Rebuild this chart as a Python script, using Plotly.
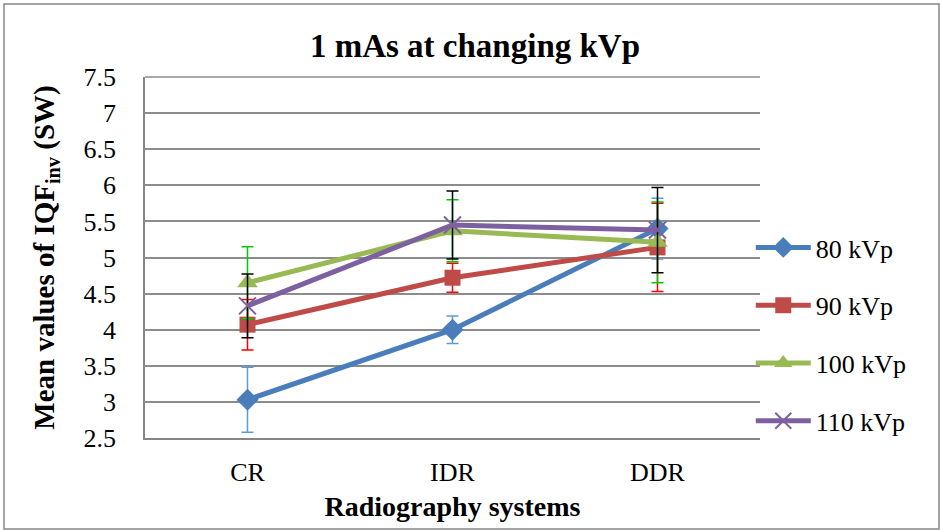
import plotly.graph_objects as go

categories = ["CR", "IDR", "DDR"]
series_names = ["80 kVp", "90 kVp", "100 kVp", "110 kVp"]
values_80 = [3.03, 4.00, 5.40]
values_90 = [4.07, 4.72, 5.14]
values_100 = [4.65, 5.37, 5.21]
values_110 = [4.33, 5.45, 5.38]
err_80 = [0.45, 0.19, 0.42]
err_90 = [0.35, 0.20, 0.61]
err_100 = [0.50, 0.43, 0.56]
err_110 = [0.44, 0.47, 0.59]
y_ticks = [2.5, 3, 3.5, 4, 4.5, 5, 5.5, 6, 6.5, 7, 7.5]

W, H = 940, 530
L, R, T, B = 145, 180, 77, 92

styles = [
    dict(color="#4a7ebb", symbol="diamond", size=17, ecolor="#5b9bd5"),
    dict(color="#be4b48", symbol="square", size=16, ecolor="#ff0000"),
    dict(color="#98b954", symbol="triangle-up", size=18, ecolor="#00cc00"),
    dict(color="#7d60a0", symbol="x-thin", size=17, ecolor="#000000"),
]
vals = [values_80, values_90, values_100, values_110]
errs = [err_80, err_90, err_100, err_110]

fig = go.Figure()
for name, v, e, s in zip(series_names, vals, errs, styles):
    marker = dict(symbol=s["symbol"], size=s["size"], color=s["color"])
    if s["symbol"] == "x-thin":
        marker["line"] = dict(color=s["color"], width=2)
    fig.add_trace(go.Scatter(
        x=categories, y=v, name=name, mode="lines+markers",
        line=dict(color=s["color"], width=5),
        marker=marker,
        legendgroup=name,
        error_y=dict(type="data", array=e, visible=True, color=s["ecolor"],
                     thickness=1.5, width=6),
    ))

font_family = "Liberation Serif, Times New Roman, serif"

def px_to_paper_x(px):
    return (px - L) / (W - L - R)

def px_to_paper_y(py):
    return 1 - (py - T) / (H - T - B)

fig.add_shape(type="rect", xref="paper", yref="paper",
              x0=px_to_paper_x(4), x1=px_to_paper_x(939),
              y0=px_to_paper_y(529), y1=px_to_paper_y(4),
              line=dict(color="#868686", width=1.5), fillcolor="rgba(0,0,0,0)",
              layer="below")

fig.update_layout(
    width=W, height=H,
    margin=dict(l=L, r=R, t=T, b=B),
    paper_bgcolor="white", plot_bgcolor="white",
    font=dict(family=font_family, size=26, color="black"),
    title=dict(text="<b>1 mAs at changing kVp</b>", x=475 / W, xanchor="center",
               xref="container", y=1 - 45 / H, yanchor="middle",
               font=dict(size=33, family=font_family)),
    showlegend=True,
    legend=dict(x=0.985, xanchor="left", y=px_to_paper_y(224), yanchor="top",
                font=dict(size=26, family=font_family),
                tracegroupgap=21, itemwidth=55, bgcolor="rgba(0,0,0,0)"),
    xaxis=dict(showline=True, linecolor="#868686", linewidth=1.5,
               showgrid=False, ticks="", ticklabelstandoff=10,
               title=dict(text="<b>Radiography systems</b>", standoff=10,
                          font=dict(size=28, family=font_family)),
               range=[-0.5, 2.5]),
    yaxis=dict(range=[2.5, 7.5], tickvals=y_ticks, ticktext=[f"{t:g}" for t in y_ticks],
               showline=True, linecolor="#868686", linewidth=1.5,
               showgrid=True, gridcolor="#8c8c8c", gridwidth=1.5,
               zeroline=False, ticks="", ticklabelstandoff=22,
               title=dict(text="<b>Mean values of IQF<sub>inv</sub> (SW)</b>", standoff=20,
                          font=dict(size=29, family=font_family))),
)
fig.add_shape(type="line", xref="paper", yref="paper", x0=0, x1=1, y0=1, y1=1,
              line=dict(color="#8c8c8c", width=1.5), layer="below")

fig.write_html("out.html")
